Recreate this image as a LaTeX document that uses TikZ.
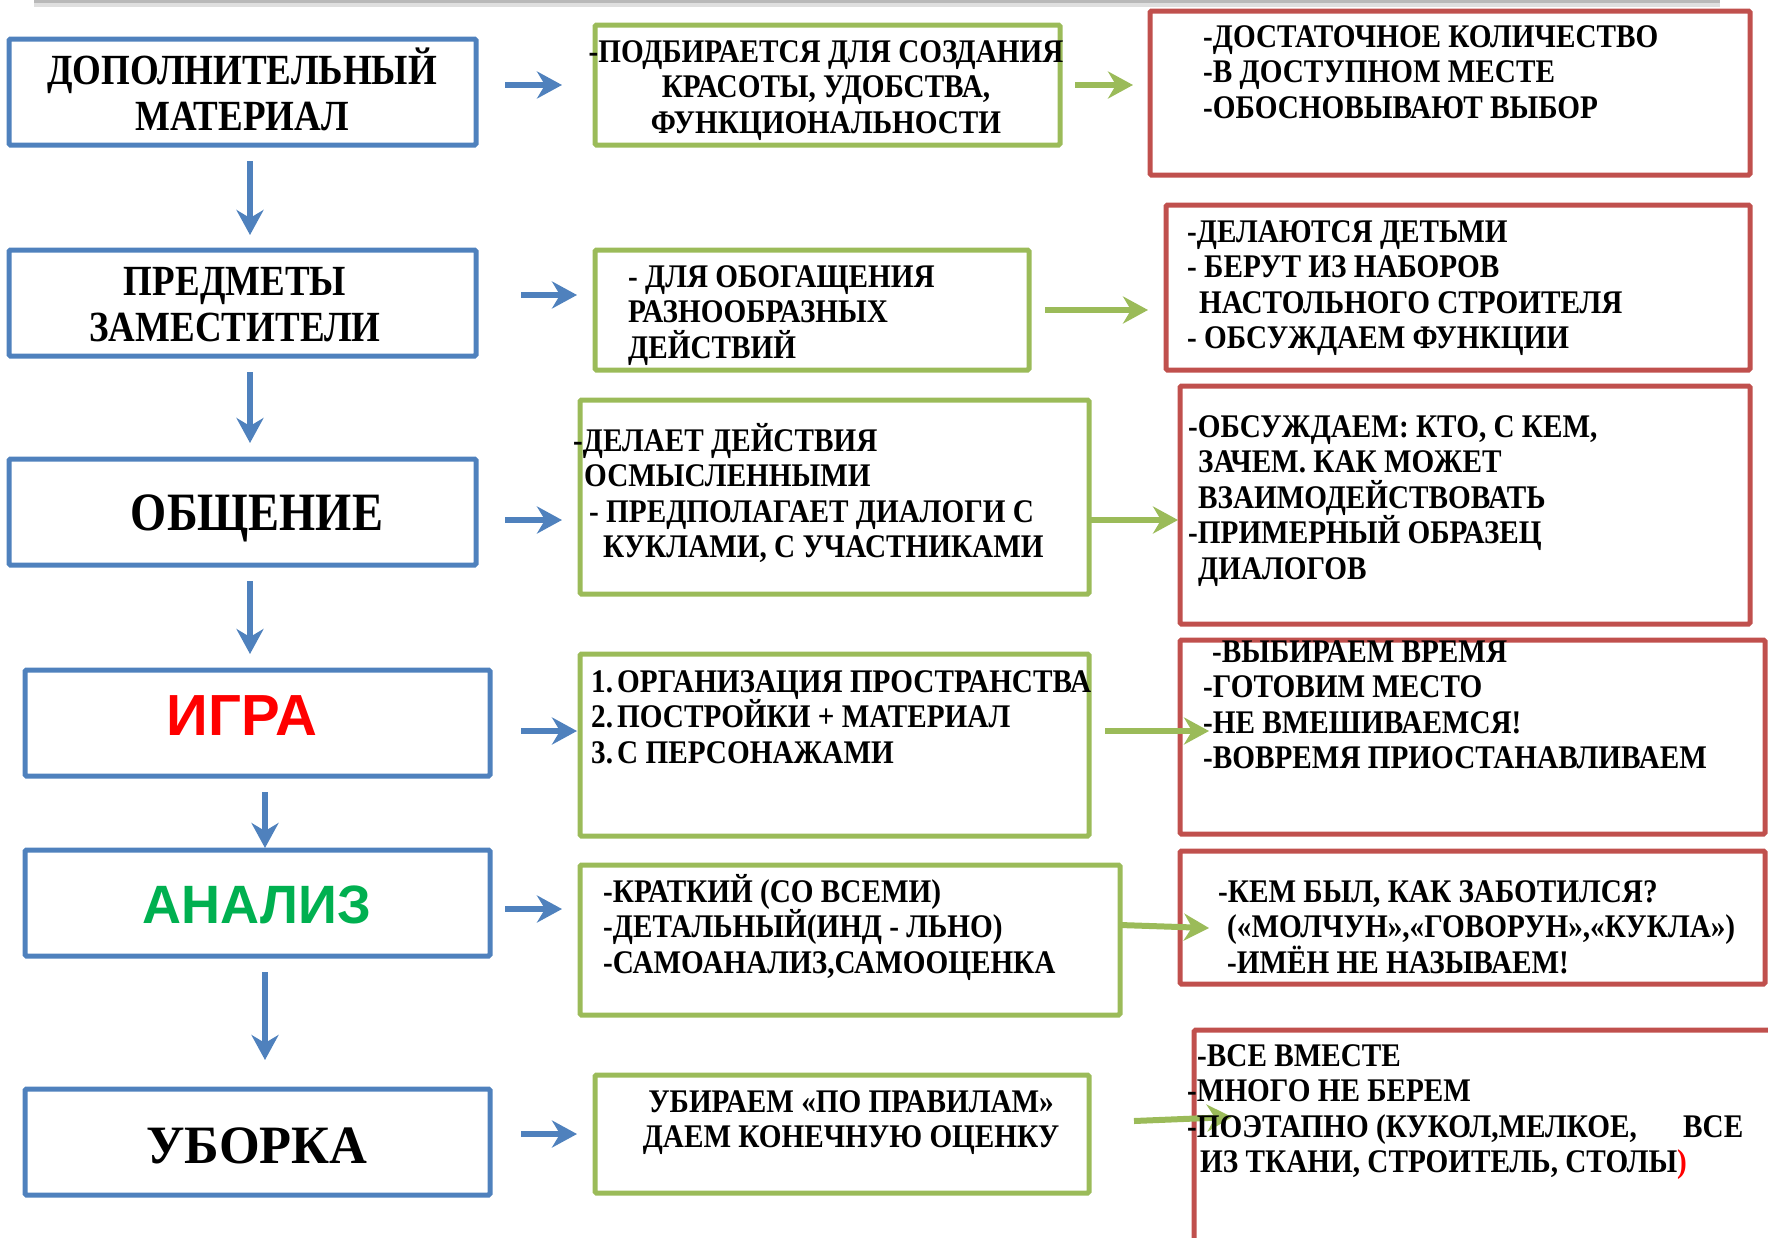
\documentclass[tikz,border=0pt]{standalone}
\usepackage{fontspec}
\setmainfont{Liberation Serif}[FakeStretch=0.86]
\newfontfamily\bodyfont{Liberation Serif}[FakeStretch=0.885]
\newfontfamily\wideserif{Liberation Serif}[FakeStretch=0.97]
\newfontfamily\arialfont{Liberation Sans}
\usetikzlibrary{arrows.meta}
\definecolor{bblue}{HTML}{4F81BD}
\definecolor{ggreen}{HTML}{9BBB59}
\definecolor{rred}{HTML}{C0504D}
\definecolor{txtgreen}{HTML}{00B050}
\definecolor{txtred}{HTML}{FF0000}
\begin{document}
\begin{tikzpicture}[x=1pt,y=-1pt,
  boxbase/.style={line width=5pt, rounded corners=1.5pt, inner sep=0pt, outer sep=0pt},
  bluebox/.style={boxbase, draw=bblue},
  greenbox/.style={boxbase, draw=ggreen},
  redbox/.style={boxbase, draw=rred},
  body/.style={font=\bodyfont\fontsize{33}{35.5}\selectfont\bfseries, align=left, anchor=base west, inner sep=0pt},
  bodyc/.style={body, align=center, anchor=base},
  head/.style={font=\fontsize{43}{46}\selectfont\bfseries, align=center, anchor=base, inner sep=0pt},
  bighead/.style={font=\fontsize{54}{56}\selectfont\bfseries, anchor=base, inner sep=0pt},
  sanshead/.style={font=\arialfont\fontsize{58}{60}\selectfont\bfseries, anchor=base, inner sep=0pt},
  barrow/.style={draw=bblue, line width=6pt, -{Stealth[length=25pt,width=27pt,inset=8pt]}},
  garrow/.style={draw=ggreen, line width=6pt, -{Stealth[length=25pt,width=27pt,inset=8pt]}}]
\useasboundingbox (0,0) rectangle (1768,1237);
\clip (0,0) rectangle (1768,1237);
% top shadow line
\draw[gray!25, line width=7pt] (34,3) -- (1720,3);
\draw[gray!55, line width=3pt] (34,1) -- (1720,1);
% blue boxes
\node[bluebox, minimum width=467pt, minimum height=106pt] (B1) at (242.5,92) {};
\node[bluebox, minimum width=467pt, minimum height=106pt] (B2) at (242.5,303) {};
\node[bluebox, minimum width=467pt, minimum height=106pt] (B3) at (242.5,512) {};
\node[bluebox, minimum width=465pt, minimum height=106pt] (B4) at (257.5,723) {};
\node[bluebox, minimum width=465pt, minimum height=106pt] (B5) at (257.5,903) {};
\node[bluebox, minimum width=465pt, minimum height=106pt] (B6) at (257.5,1142) {};
% green boxes
\node[greenbox, minimum width=465pt, minimum height=120pt] (G1) at (827.5,85) {};
\node[greenbox, minimum width=434pt, minimum height=120pt] (G2) at (812,310) {};
\node[greenbox, minimum width=509pt, minimum height=194pt] (G3) at (834.5,497) {};
\node[greenbox, minimum width=509pt, minimum height=182pt] (G4) at (834.5,745) {};
\node[greenbox, minimum width=540pt, minimum height=150pt] (G5) at (850,940) {};
\node[greenbox, minimum width=494pt, minimum height=118pt] (G6) at (842,1134) {};
% red boxes
\node[redbox, minimum width=600pt, minimum height=164pt] (R1) at (1450,93) {};
\node[redbox, minimum width=584pt, minimum height=165pt] (R2) at (1458,287.5) {};
\node[redbox, minimum width=570pt, minimum height=238pt] (R3) at (1465,505) {};
\node[redbox, minimum width=585pt, minimum height=194pt] (R4) at (1472.5,737) {};
\node[redbox, minimum width=585pt, minimum height=133pt] (R5) at (1472.5,917.5) {};
\node[redbox, minimum width=620pt, minimum height=270pt] (R6) at (1504,1165) {};
% arrow end points
\coordinate (d1a) at (250,161);  \coordinate (d1b) at (250,235);
\coordinate (d2a) at (250,372);  \coordinate (d2b) at (250,443);
\coordinate (d3a) at (250,581);  \coordinate (d3b) at (250,654);
\coordinate (d4a) at (265,792);  \coordinate (d4b) at (265,848);
\coordinate (d5a) at (265,972);  \coordinate (d5b) at (265,1060);
\coordinate (r1a) at (505,85);   \coordinate (r1b) at (562,85);
\coordinate (r2a) at (521,295);  \coordinate (r2b) at (577,295);
\coordinate (r3a) at (505,520);  \coordinate (r3b) at (562,520);
\coordinate (r4a) at (521,731);  \coordinate (r4b) at (577,731);
\coordinate (r5a) at (505,909);  \coordinate (r5b) at (562,909);
\coordinate (r6a) at (521,1134); \coordinate (r6b) at (577,1134);
\coordinate (g1a) at (1075,85);  \coordinate (g1b) at (1133,85);
\coordinate (g2a) at (1045,310); \coordinate (g2b) at (1148,310);
\coordinate (g3a) at (1089,520); \coordinate (g3b) at (1178,520);
\coordinate (g4a) at (1105,731); \coordinate (g4b) at (1209,731);
\coordinate (g5a) at (1120,925); \coordinate (g5b) at (1209,928);
\coordinate (g6a) at (1134,1121); \coordinate (g6b) at (1232,1117);
% arrows
\foreach \a in {d1,d2,d3,d4,d5,r1,r2,r3,r4,r5,r6}{\draw[barrow] (\a a) -- (\a b);}
\foreach \a in {g1,g2,g3,g4,g5,g6}{\draw[garrow] (\a a) -- (\a b);}
% headings (anchor = baseline of the last line)
\node[head] (tb1) at (242,130) {ДОПОЛНИТЕЛЬНЫЙ\\МАТЕРИАЛ};
\node[head] (tb2) at (235,341) {ПРЕДМЕТЫ\\ЗАМЕСТИТЕЛИ};
\node[bighead] (tb3) at (257,530) {ОБЩЕНИЕ};
\node[sanshead, text=txtred] (tb4) at (242,735) {ИГРА};
\node[sanshead, text=txtgreen, font=\arialfont\fontsize{54}{56}\selectfont\bfseries] (tb5) at (257,923) {АНАЛИЗ};
\node[bighead, font=\wideserif\fontsize{54}{56}\selectfont\bfseries] (tb6) at (257,1163) {УБОРКА};
% green texts
\node[bodyc] (tg1) at (826,133) {-ПОДБИРАЕТСЯ ДЛЯ СОЗДАНИЯ\\КРАСОТЫ, УДОБСТВА,\\ФУНКЦИОНАЛЬНОСТИ};
\node[body] (tg2) at (628,358) {- ДЛЯ ОБОГАЩЕНИЯ\\РАЗНООБРАЗНЫХ\\ДЕЙСТВИЙ};
\node[body] (tg3) at (573,557.5) {-ДЕЛАЕТ ДЕЙСТВИЯ\\\hspace*{11pt}ОСМЫСЛЕННЫМИ\\\hspace*{16pt}- ПРЕДПОЛАГАЕТ ДИАЛОГИ С\\\hspace*{30pt}КУКЛАМИ, С УЧАСТНИКАМИ};
\node[body] (tg4) at (591,763) {\makebox[26pt][l]{1.}ОРГАНИЗАЦИЯ ПРОСТРАНСТВА\\\makebox[26pt][l]{2.}ПОСТРОЙКИ + МАТЕРИАЛ\\\makebox[26pt][l]{3.}С ПЕРСОНАЖАМИ};
\node[body] (tg5) at (603,973) {-КРАТКИЙ (СО ВСЕМИ)\\-ДЕТАЛЬНЫЙ(ИНД - ЛЬНО)\\-САМОАНАЛИЗ,САМООЦЕНКА};
\node[bodyc] (tg6) at (851,1147.5) {УБИРАЕМ «ПО ПРАВИЛАМ»\\ДАЕМ КОНЕЧНУЮ ОЦЕНКУ};
% red texts
\node[body] (tr1) at (1203,118) {-ДОСТАТОЧНОЕ КОЛИЧЕСТВО\\-В ДОСТУПНОМ МЕСТЕ\\-ОБОСНОВЫВАЮТ ВЫБОР};
\node[body] (tr2) at (1187,348.5) {-ДЕЛАЮТСЯ ДЕТЬМИ\\- БЕРУТ ИЗ НАБОРОВ\\\hspace*{12pt}НАСТОЛЬНОГО СТРОИТЕЛЯ\\- ОБСУЖДАЕМ ФУНКЦИИ};
\node[body] (tr3) at (1188,579) {-ОБСУЖДАЕМ: КТО, С КЕМ,\\\hspace*{10pt}ЗАЧЕМ. КАК МОЖЕТ\\\hspace*{10pt}ВЗАИМОДЕЙСТВОВАТЬ\\-ПРИМЕРНЫЙ ОБРАЗЕЦ\\\hspace*{10pt}ДИАЛОГОВ};
\node[body] (tr4) at (1203,768.5) {\hspace*{9pt}-ВЫБИРАЕМ ВРЕМЯ\\-ГОТОВИМ МЕСТО\\-НЕ ВМЕШИВАЕМСЯ!\\-ВОВРЕМЯ ПРИОСТАНАВЛИВАЕМ};
\node[body] (tr5) at (1218,973) {-КЕМ БЫЛ, КАК ЗАБОТИЛСЯ?\\\hspace*{9pt}(«МОЛЧУН»,«ГОВОРУН»,«КУКЛА»)\\\hspace*{9pt}-ИМЁН НЕ НАЗЫВАЕМ!};
\node[body] (tr6) at (1187,1172.5) {\hspace*{10pt}-ВСЕ ВМЕСТЕ\\-МНОГО НЕ БЕРЕМ\\\makebox[496pt][l]{-ПОЭТАПНО (КУКОЛ,МЕЛКОЕ,}ВСЕ\\\hspace*{13pt}ИЗ ТКАНИ, СТРОИТЕЛЬ, СТОЛЫ\textcolor{txtred}{)}};
\end{tikzpicture}
\end{document}
